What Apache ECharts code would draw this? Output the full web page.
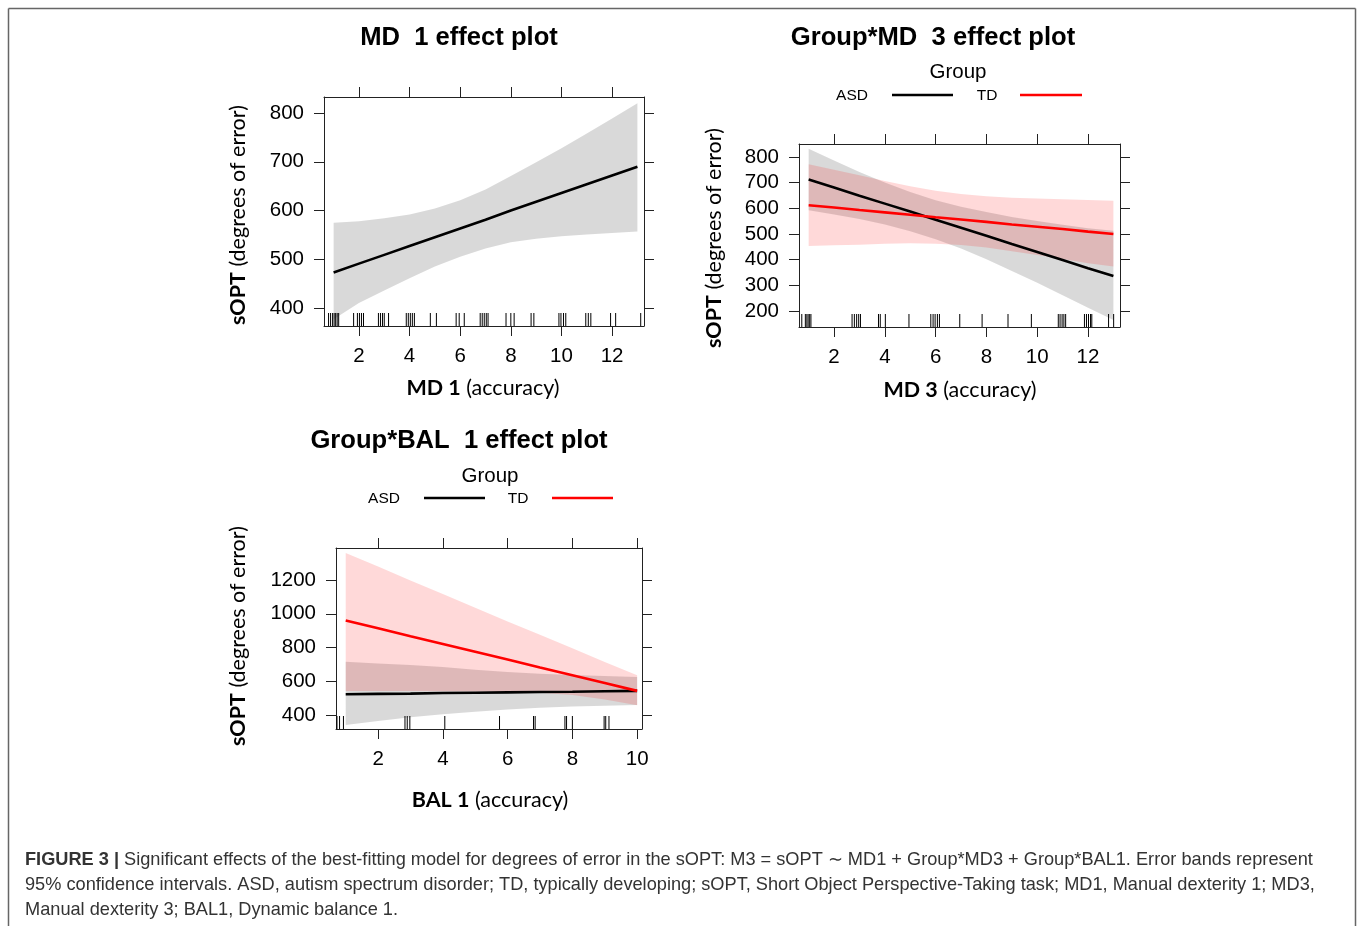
<!DOCTYPE html>
<html>
<head>
<meta charset="utf-8">
<script src="https://cdn.jsdelivr.net/npm/echarts@6/dist/echarts.min.js"></script>
<style>
html,body{margin:0;padding:0;background:#fff;}
#chart{width:1357px;height:926px;}
</style>
</head>
<body>
<div id="chart"></div>
<script>
// ---------------- DATA ----------------
// Panel 1: MD 1 effect
const md1X = [1,2,3,4,5,6,7,8,9,10,11,12,13];
const md1Fit = [473,491,509,527,545,563,581,600,618,636,654,672,690];
const md1Upper = [575,578,584,592,604,621,643,671,699,728,758,789,820];
const md1Lower = [377,410,436,461,485,505,522,535,542,547,551,554,557];
const md1Rug = [0.80,0.88,0.96,1.02,1.08,1.14,1.20,1.79,1.94,2.02,2.10,2.18,2.77,2.85,2.93,3.00,3.17,3.87,3.95,4.03,4.11,4.19,4.82,5.06,5.84,5.96,6.16,6.79,6.87,6.95,7.03,7.10,7.81,8.00,8.13,8.80,8.91,9.90,9.98,10.08,10.17,10.96,11.06,11.16,11.94,12.14,13.13];

// Panel 2: Group*MD 3 effect
const md3X = [1,2,3,4,5,6,7,8,9,10,11,12,13];
const md3AsdFit = [712,681,649,618,587,555,524,493,461,430,399,367,336];
const md3AsdUpper = [832,786,741,700,663,631,606,585,566,550,536,522,512];
const md3AsdLower = [592,576,558,537,511,479,443,402,356,310,262,213,165];
const md3TdFit = [612,603,593,584,575,565,556,547,537,528,519,509,500];
const md3TdUpper = [771,750,728,706,686,668,655,647,641,638,635,632,629];
const md3TdLower = [453,456,458,462,464,462,457,447,433,418,403,386,373];
const md3Rug = [0.73,0.87,0.93,0.98,1.04,1.09,2.71,2.80,2.89,2.97,3.04,3.75,3.82,4.02,4.95,5.81,5.90,5.98,6.07,6.15,6.95,7.83,8.85,9.77,10.83,10.90,10.98,11.05,11.12,11.86,11.94,12.02,12.10,12.15,12.81,13.01];

// Panel 3: Group*BAL 1 effect
const bal1X = [1,2,3,4,5,6,7,8,9,10];
const bal1AsdFit = [523,525,527,530,532,534,536,538,541,543];
const bal1AsdUpper = [715,706,696,684,668,655,645,637,631,626];
const bal1AsdLower = [341,365,387,405,420,433,443,450,455,459];
const bal1TdFit = [960,914,867,821,775,729,682,636,590,543];
const bal1TdUpper = [1361,1280,1198,1117,1036,955,875,795,714,635];
const bal1TdLower = [543,543,542,541,539,536,532,518,492,458];
const bal1Rug = [0.73,0.81,0.93,2.83,2.90,2.98,4.06,5.75,6.80,6.85,7.77,7.82,8.00,8.98,9.03,9.13];

// Tick labels
const md1XTicks = [2,4,6,8,10,12];
const md1YTicks = [400,500,600,700,800];
const md3XTicks = [2,4,6,8,10,12];
const md3YTicks = [200,300,400,500,600,700,800];
const bal1XTicks = [2,4,6,8,10];
const bal1YTicks = [400,600,800,1000,1200];

// ---------------- LAYOUT ----------------
const panels = [
  {grid:{left:324, top:97, width:320, height:229}, xMin:0.62, xMax:13.26, yMin:363, yMax:833, xt:md1XTicks, yt:md1YTicks},
  {grid:{left:799, top:144, width:321, height:183}, xMin:0.62, xMax:13.26, yMin:138, yMax:850, xt:md3XTicks, yt:md3YTicks},
  {grid:{left:336, top:548, width:306, height:181}, xMin:0.70, xMax:10.15, yMin:317, yMax:1390, xt:bal1XTicks, yt:bal1YTicks}
];

const AX = '#222';
const tickFont = {fontSize:20.5, fontFamily:'Liberation Sans, Arial, sans-serif', color:'#000', formatter:function(v){return String(v);}};

const grids = [], xAxes = [], yAxes = [];
panels.forEach((p, i) => {
  grids.push(Object.assign({}, p.grid));
  ['bottom','top'].forEach((pos, k) => {
    xAxes.push({
      type:'value', gridIndex:i, position:pos, min:p.xMin, max:p.xMax,
      axisLine:{show:true, onZero:false, lineStyle:{color:AX, width:1}},
      axisTick:{show:true, inside:false, length:10, customValues:p.xt, lineStyle:{color:AX, width:1}},
      axisLabel:Object.assign({show:k===0, customValues:p.xt, margin:20}, tickFont),
      splitLine:{show:false}
    });
  });
  ['left','right'].forEach((pos, k) => {
    yAxes.push({
      type:'value', gridIndex:i, position:pos, min:p.yMin, max:p.yMax,
      axisLine:{show:true, onZero:false, lineStyle:{color:AX, width:1}},
      axisTick:{show:true, inside:false, length:10, customValues:p.yt, lineStyle:{color:AX, width:1}},
      axisLabel:Object.assign({show:k===0, customValues:p.yt, margin:20}, tickFont),
      splitLine:{show:false}
    });
  });
});

const GREY = 'rgba(0,0,0,0.15)';
const PINK = 'rgba(255,0,0,0.15)';

function band(panelIdx, xs, lo, hi, color) {
  return {
    type:'custom', xAxisIndex:panelIdx*2, yAxisIndex:panelIdx*2, clip:true, silent:true, z:1,
    data:[[xs[0], lo[0]]],
    renderItem:function(params, api){
      const pts = [];
      for (let j=0;j<xs.length;j++) pts.push(api.coord([xs[j], hi[j]]));
      for (let j=xs.length-1;j>=0;j--) pts.push(api.coord([xs[j], lo[j]]));
      return {type:'polygon', shape:{points:pts}, style:{fill:color, stroke:null}};
    }
  };
}
function fit(panelIdx, xs, ys, color) {
  return {
    type:'line', xAxisIndex:panelIdx*2, yAxisIndex:panelIdx*2, showSymbol:false, silent:true, z:3,
    data:xs.map((x,j)=>[x, ys[j]]),
    lineStyle:{color:color, width:2.6}, animation:false
  };
}
function rug(panelIdx, vals) {
  const yMin = panels[panelIdx].yMin;
  return {
    type:'custom', xAxisIndex:panelIdx*2, yAxisIndex:panelIdx*2, silent:true, z:4, clip:false,
    data:vals.map(v=>[v, yMin]),
    renderItem:function(params, api){
      const pt = api.coord([api.value(0), api.value(1)]);
      return {type:'line', shape:{x1:pt[0], y1:pt[1], x2:pt[0], y2:pt[1]-13}, style:{stroke:'#000', lineWidth:1}};
    }
  };
}

const series = [
  band(0, md1X, md1Lower, md1Upper, GREY),
  fit(0, md1X, md1Fit, '#000'),
  rug(0, md1Rug),
  band(1, md3X, md3AsdLower, md3AsdUpper, GREY),
  band(1, md3X, md3TdLower, md3TdUpper, PINK),
  fit(1, md3X, md3AsdFit, '#000'),
  fit(1, md3X, md3TdFit, '#ff0000'),
  rug(1, md3Rug),
  band(2, bal1X, bal1AsdLower, bal1AsdUpper, GREY),
  band(2, bal1X, bal1TdLower, bal1TdUpper, PINK),
  fit(2, bal1X, bal1AsdFit, '#000'),
  fit(2, bal1X, bal1TdFit, '#ff0000'),
  rug(2, bal1Rug)
];

// ---------------- TEXT ----------------
const TF = 'Liberation Sans, Arial, sans-serif';
const LF = 'Lato, "Open Sans", sans-serif';
function txt(x, y, text, font, opts) {
  opts = opts || {};
  return Object.assign({
    type:'text', x:x, y:y, silent:true,
    style:Object.assign({text:text, font:font, fill:'#000', textAlign:'center', textVerticalAlign:'middle'}, opts.style||{})
  }, opts.el||{});
}
function richTxt(x, y, text, rot) {
  return {
    type:'text', x:x, y:y, rotation:rot||0, silent:true,
    style:{text:text, font:'21.5px ' + LF, fill:'#000', textAlign:'center', textVerticalAlign:'middle',
      rich:{b:{font:'bold 21.5px ' + LF, fill:'#000'}}}
  };
}
function seg(x1, x2, y, color) {
  return {type:'line', silent:true, shape:{x1:x1, y1:y, x2:x2, y2:y}, style:{stroke:color, lineWidth:2.6}};
}

const captionLines = [
  '{b|FIGURE 3 |} Significant effects of the best-fitting model for degrees of error in the sOPT: M3 = sOPT \u223C MD1 + Group*MD3 + Group*BAL1. Error bands represent',
  '95% confidence intervals. ASD, autism spectrum disorder; TD, typically developing; sOPT, Short Object Perspective-Taking task; MD1, Manual dexterity 1; MD3,',
  'Manual dexterity 3; BAL1, Dynamic balance 1.'
];

const graphics = [
  // frame
  {type:'line', silent:true, shape:{x1:8.5, y1:8.5, x2:1355.5, y2:8.5}, style:{stroke:'#666', lineWidth:1.5}},
  {type:'line', silent:true, shape:{x1:8.5, y1:8.5, x2:8.5, y2:926}, style:{stroke:'#666', lineWidth:1.5}},
  {type:'line', silent:true, shape:{x1:1355.5, y1:8.5, x2:1355.5, y2:926}, style:{stroke:'#666', lineWidth:1.5}},
  // titles
  txt(459, 38, 'MD  1 effect plot', 'bold 25.6px ' + TF),
  txt(933, 38, 'Group*MD  3 effect plot', 'bold 25.6px ' + TF),
  txt(459, 441, 'Group*BAL  1 effect plot', 'bold 25.6px ' + TF),
  // legends
  txt(958, 72, 'Group', '20.5px ' + TF),
  txt(852, 96, 'ASD', '15.5px ' + TF),
  seg(892, 953, 95, '#000'),
  txt(987, 96, 'TD', '15.5px ' + TF),
  seg(1020, 1082, 95, '#ff0000'),
  txt(490, 476, 'Group', '20.5px ' + TF),
  txt(384, 499, 'ASD', '15.5px ' + TF),
  seg(424, 485, 498, '#000'),
  txt(518, 499, 'TD', '15.5px ' + TF),
  seg(552, 613, 498, '#ff0000'),
  // axis names
  richTxt(238, 215, '{b|sOPT} (degrees of error)', Math.PI/2),
  richTxt(714, 238, '{b|sOPT} (degrees of error)', Math.PI/2),
  richTxt(238, 636, '{b|sOPT} (degrees of error)', Math.PI/2),
  richTxt(483, 388, '{b|MD 1} (accuracy)'),
  richTxt(960, 390, '{b|MD 3} (accuracy)'),
  richTxt(490, 800, '{b|BAL 1} (accuracy)')
];
captionLines.forEach((t, i) => {
  graphics.push({
    type:'text', x:25, y:860 + i*25, silent:true,
    style:{text:t, font:'18.2px ' + TF, fill:'#333', textAlign:'left', textVerticalAlign:'middle',
      rich:{b:{font:'bold 18.2px ' + TF, fill:'#333'}}}
  });
});

const chart = echarts.init(document.getElementById('chart'), null, {renderer:'canvas'});
chart.setOption({
  animation:false,
  backgroundColor:'#fff',
  grid:grids, xAxis:xAxes, yAxis:yAxes, series:series, graphic:graphics
});
</script>
</body>
</html>
